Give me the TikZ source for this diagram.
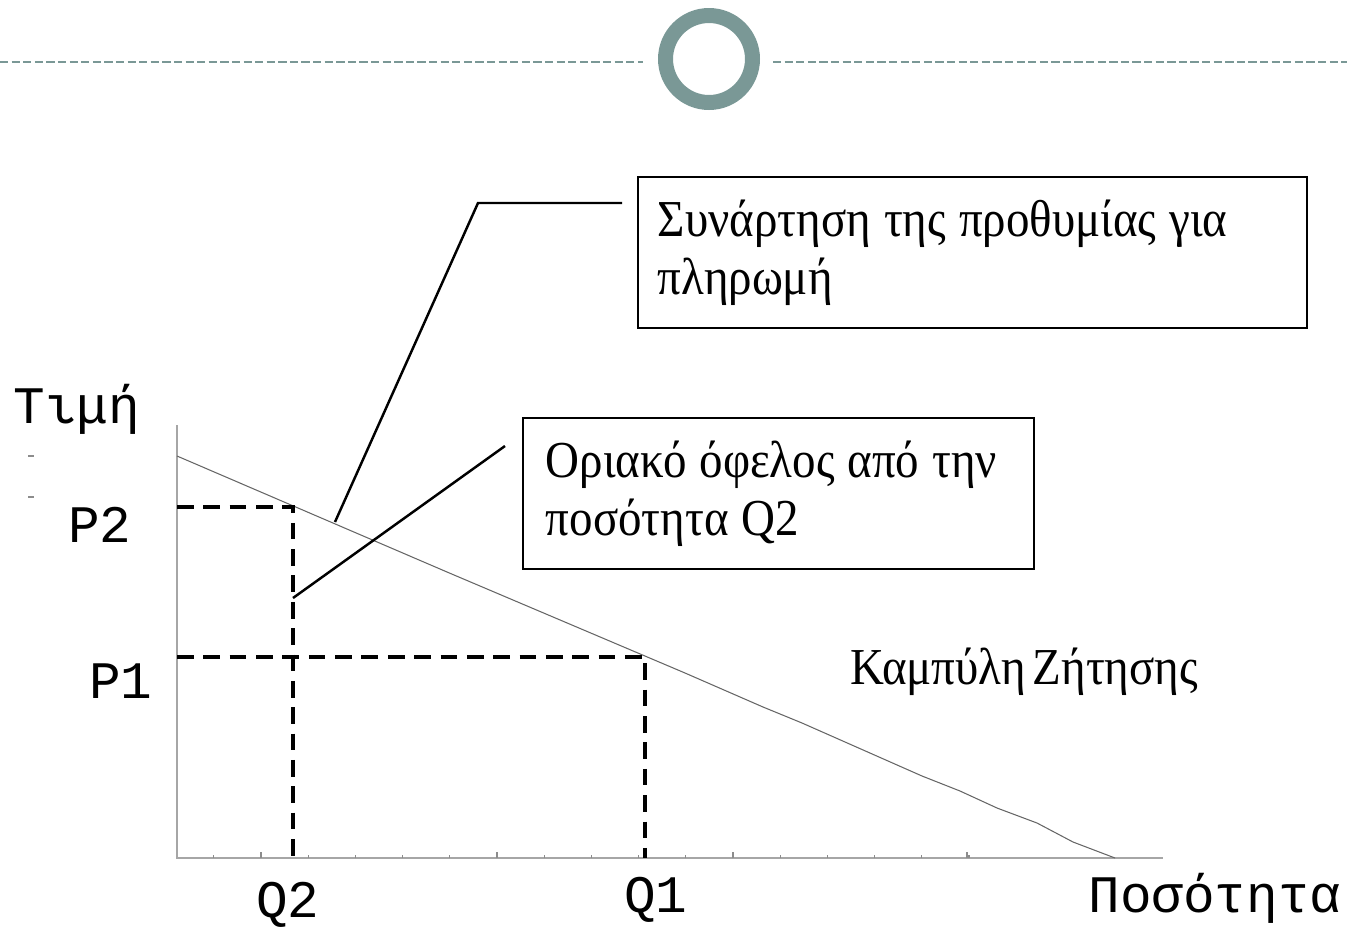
\documentclass[tikz,border=0pt]{standalone}
\usepackage{fontspec}
\setmainfont{Liberation Serif}
\newfontfamily\boxfont[FakeStretch=0.906, WordSpace=0.6]{Liberation Serif}
\newfontfamily\axisfont{Liberation Mono}
\usetikzlibrary{positioning}
\definecolor{ringteal}{RGB}{122,152,150}

\begin{document}
\begin{tikzpicture}[x=0.02cm, y=-0.02cm,
  axis/.style={draw=black!35, line width=1.1pt},
  tick/.style={draw=black!45, line width=0.6pt},
  demand/.style={draw=black!60, line width=0.6pt},
  guide/.style={line width=2.3pt, dash pattern=on 9.5pt off 5.5pt},
  leader/.style={line width=1.4pt},
  box/.style={draw, line width=1.1pt, anchor=north west, align=left,
    inner ysep=0pt, minimum height=3.02cm, font=\boxfont\fontsize{29.5}{33}\selectfont,
    execute at begin node={\spaceskip=0.25em plus 0.05em\relax}},
  lbl/.style={font=\axisfont\fontsize{30}{36}\selectfont, inner sep=0pt, anchor=base}]

\useasboundingbox (0,0) rectangle (1347,930);

% top ornament
\draw[ringteal, line width=1.7pt, dash pattern=on 4.7pt off 1.9pt] (0,62) -- (643,62);
\draw[ringteal, line width=1.7pt, dash pattern=on 4.7pt off 1.9pt] (773,62) -- (1347,62);
\draw[ringteal, line width=0.3cm] (709,59) circle (0.87cm);

% axes
\coordinate (Ytop) at (177,425);
\coordinate (O)    at (177,858);
\coordinate (Xend) at (1163,858);
\draw[axis] (Ytop) -- (O) -- (Xend);
\foreach \k in {-1,...,15}
  \draw[tick] ({261+47.2*\k},858) -- ++(0,-3);
\foreach \xm in {261,497,733,967}
  \draw[tick] (\xm,858) -- ++(0,-6);
\draw[tick] (28,456) -- (34,456);
\draw[tick] (28,497) -- (34,497);

% demand curve
\coordinate (Dtop) at (177,456);
\coordinate (Dend) at (1115,858);
\draw[demand] (Dtop) -- (447,572) -- (685,673) -- (763,707) -- (802,723)
  -- (922,776) -- (960,791) -- (997,808) -- (1037,823) -- (1073,842) -- (Dend);

% price / quantity guides
\coordinate (p2y) at (177,507);
\coordinate (p2c) at (293,507);
\coordinate (q2x) at (293,858);
\coordinate (p1y) at (177,657);
\coordinate (p1c) at (645,657);
\coordinate (q1x) at (645,858);
\draw[guide] (p2y) -- (p2c) -- (q2x);
\draw[guide] (p1y) -- (p1c) -- (q1x);

% labels
\node[lbl] (tlab) at (77,423)   {Τιμή};
\node[lbl] (p2lab) at (100,542) {P2};
\node[lbl] (p1lab) at (121,698) {P1};
\node[lbl] (q2lab) at (288,917) {Q2};
\node[lbl] (q1lab) at (656,912) {Q1};
\node[lbl] (qlab) at (1215,912) {Ποσότητα};
\node[anchor=base, inner sep=0pt, font=\boxfont\fontsize{29.5}{33}\selectfont] (dlab) at (1024,684) {Καμπύλη Ζήτησης};

% boxes
\node[box, text width=12.58cm, inner xsep=0.4cm] (wtp) at (637,176)
  {Συνάρτηση της προθυμίας για\\πληρωμή};
\node[box, text width=9.3cm, inner xsep=0.46cm] (mb) at (522,417)
  {Οριακό όφελος από την\\ποσότητα Q2};

% leaders
\coordinate (wtps) at (622,203);
\coordinate (wtpk) at (478,203);
\coordinate (wtpe) at (335,522);
\draw[leader] (wtps) -- (wtpk) -- (wtpe);
\coordinate (mbs) at (505,446);
\coordinate (mbe) at (293,598);
\draw[leader] (mbs) -- (mbe);
\end{tikzpicture}
\end{document}
